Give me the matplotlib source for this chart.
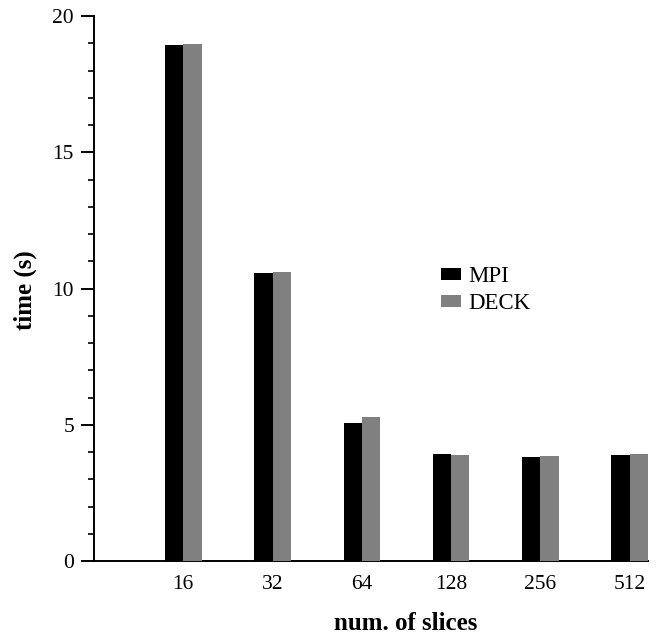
import numpy as np
import matplotlib.pyplot as plt
from matplotlib.ticker import MultipleLocator

plt.rcParams['font.family'] = ['Liberation Serif', 'DejaVu Serif']

# data
slices = ['16', '32', '64', '128', '256', '512']
mpi = [18.95, 10.58, 5.08, 3.93, 3.83, 3.88]
deck = [18.98, 10.59, 5.28, 3.89, 3.85, 3.93]

x = np.arange(1, len(slices) + 1)
w = 0.205

fig = plt.figure(figsize=(6.61, 6.35), dpi=100)
ax = fig.add_axes([94 / 661, 74 / 635, (648 - 94) / 661, (561 - 16) / 635])

ax.bar(x - w / 2, mpi, w, color='black', label='MPI', zorder=3)
ax.bar(x + w / 2, deck, w, color='#808080', label='DECK', zorder=3)

ax.set_xlim(0, x[-1] + w)
ax.set_ylim(0, 20)
ax.set_xticks(x)
ax.set_xticklabels(slices)
ax.yaxis.set_major_locator(MultipleLocator(5))
ax.yaxis.set_minor_locator(MultipleLocator(1))

for s in ['top', 'right']:
    ax.spines[s].set_visible(False)
ax.spines['left'].set_linewidth(1.4)
ax.spines['bottom'].set_linewidth(1.4)

ax.tick_params(axis='y', which='major', length=9.4, width=1.4, labelsize=15.5, pad=5)
ax.tick_params(axis='y', which='minor', length=4.3, width=1.2)
ax.tick_params(axis='x', length=0, labelsize=15.5, pad=10)

fig.text(406 / 661, 1 - 624 / 635, 'num. of slices', ha='center', va='center',
         fontsize=18, fontweight='bold')
fig.text(25 / 661, 1 - 290 / 635, 'time (s)', ha='center', va='center',
         rotation=90, fontsize=18, fontweight='bold')

ax.legend(loc='upper left', bbox_to_anchor=(441 / 661, 1 - 266 / 635),
          bbox_transform=fig.transFigure, frameon=False, fontsize=16.5,
          handlelength=0.87, handleheight=0.44, handletextpad=0.32,
          labelspacing=0.27, borderpad=0, borderaxespad=0)

fig.savefig('out.png', dpi=100)
